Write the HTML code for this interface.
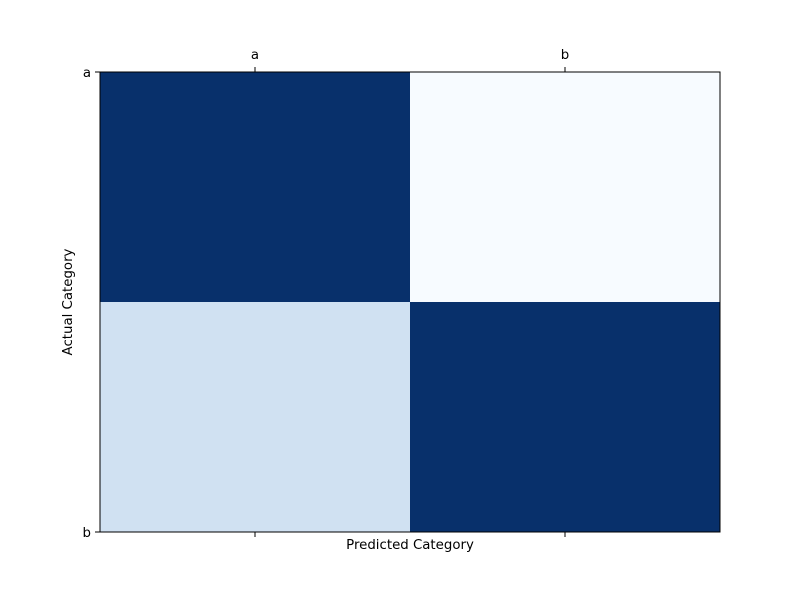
<!DOCTYPE html>
<html><head><meta charset="utf-8"><style>
body{margin:0;background:#fff;}
svg{display:block;font-family:"DejaVu Sans","Liberation Sans",sans-serif;}
</style></head><body>
<svg id="chart" width="800" height="598" viewBox="0 0 800 598">
<rect x="0" y="0" width="800" height="598" fill="#fff"/>
<g id="cells"></g>
<rect x="100" y="72" width="620" height="460" fill="none" stroke="#000" stroke-width="1"/>
<g id="axes" font-size="13.33" fill="#000"></g>
<text x="410" y="549" text-anchor="middle" font-size="13.33">Predicted Category</text>
<text x="72" y="302" text-anchor="middle" font-size="13.33" transform="rotate(-90 72 302)">Actual Category</text>
</svg>
<script>
const categories = ["a", "b"];
const rowValues0 = [10, 0];
const rowValues1 = [2, 10];
const matrix = [rowValues0, rowValues1];
const yTickLabels = ["a", "b"];

const L=100,T=72,W=620,H=460;
const n=categories.length;
const vmax=Math.max(...matrix.flat()), vmin=Math.min(...matrix.flat());
const cx=i=>L+i*W/n;
const cy=j=>T+j*H/n;
const stops=["#f7fbff","#deebf7","#c6dbef","#9ecae1","#6baed6","#4292c6","#2171b5","#08519c","#08306b"];
function hex(h){return [1,3,5].map(k=>parseInt(h.substr(k,2),16));}
function blues(t){t=Math.max(0,Math.min(1,t));const p=t*(stops.length-1);const i=Math.min(stops.length-2,Math.floor(p));const f=p-i;const a=hex(stops[i]),b=hex(stops[i+1]);return "rgb("+a.map((v,k)=>Math.round(v+(b[k]-v)*f)).join(",")+")";}
const NS="http://www.w3.org/2000/svg";
const cells=document.getElementById("cells");
matrix.forEach((row,j)=>row.forEach((v,i)=>{
  const r=document.createElementNS(NS,"rect");
  r.setAttribute("x",cx(i));r.setAttribute("y",cy(j));
  r.setAttribute("width",W/n);r.setAttribute("height",H/n);
  r.setAttribute("fill",blues((v-vmin)/(vmax-vmin)));
  
  
  cells.appendChild(r);
}));
const axes=document.getElementById("axes");
function line(x1,y1,x2,y2,name){const l=document.createElementNS(NS,"line");l.setAttribute("x1",x1);l.setAttribute("y1",y1);l.setAttribute("x2",x2);l.setAttribute("y2",y2);l.setAttribute("stroke","#000");


axes.appendChild(l);}
function text(x,y,s,anchor,name){const t=document.createElementNS(NS,"text");t.setAttribute("x",x);t.setAttribute("y",y);t.setAttribute("text-anchor",anchor);t.textContent=s;


axes.appendChild(t);}
categories.forEach((c,i)=>{
  const x=cx(i)+W/n/2;
  line(x,T,x,T-5,'x-top-tick');
  line(x,T+H,x,T+H+5,'x-bottom-tick');
  text(x,T-13,c,"middle",'x-tick-label');
});
yTickLabels.forEach((c,j)=>{
  const y=T+j*H/(yTickLabels.length-1);
  line(L,y,L-5,y,'y-tick');
  text(L-9,y+5,c,"end",'y-tick-label');
});
</script>
</body></html>
